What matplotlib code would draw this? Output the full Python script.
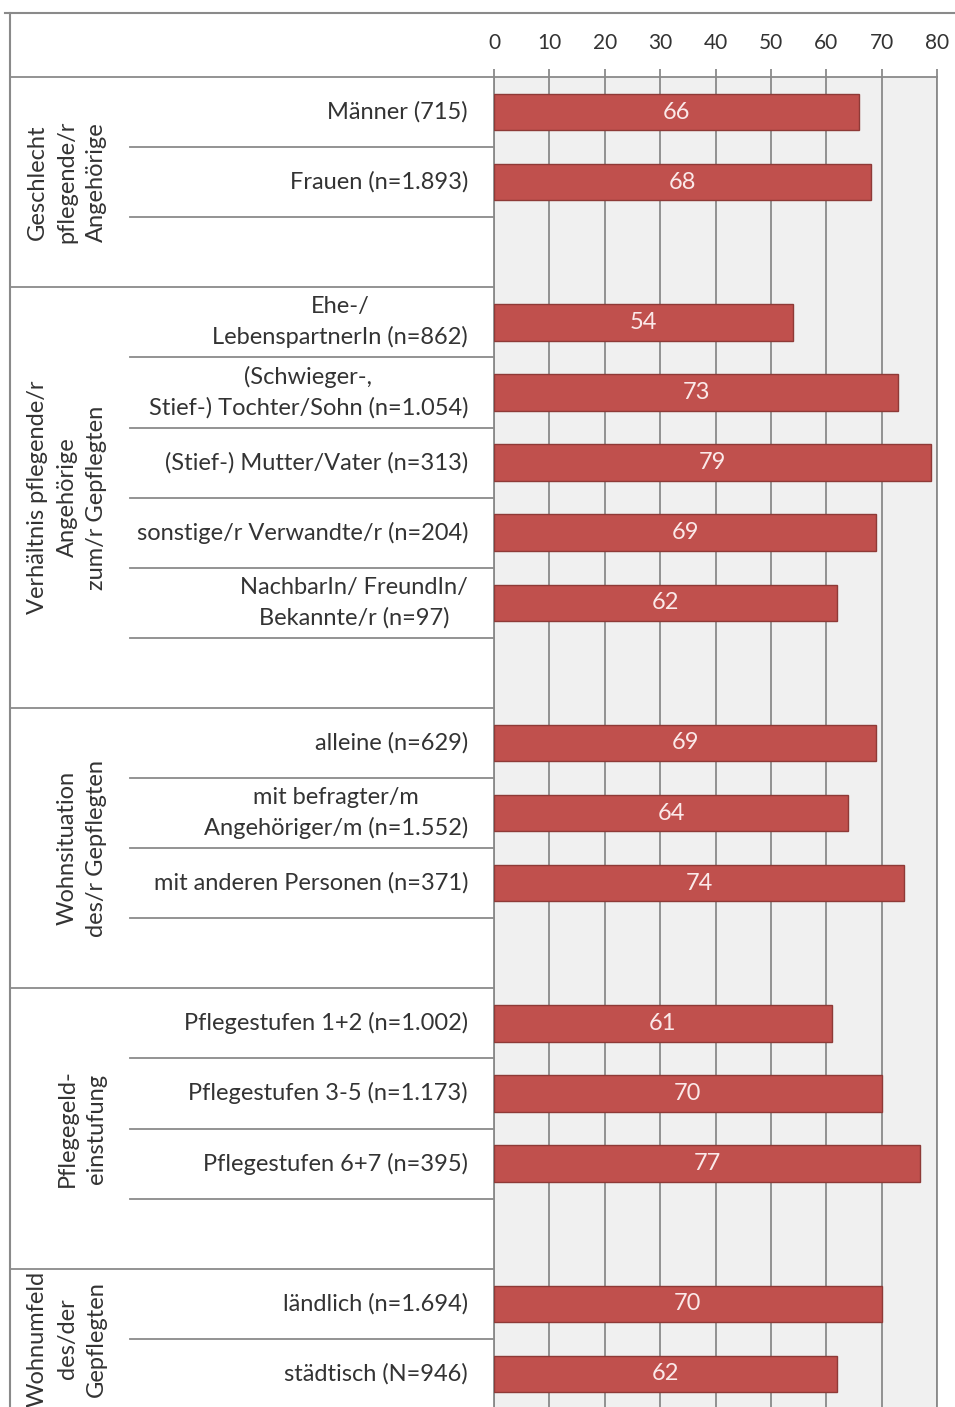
import matplotlib.pyplot as plt
import matplotlib.transforms as mtransforms
from matplotlib.lines import Line2D

plt.rcParams['font.family'] = ['Lato', 'DejaVu Sans']

# Data
group_names = [
    "Geschlecht\npflegende/r\nAngehörige",
    "Verhältnis pflegende/r\nAngehörige\nzum/r Gepflegten",
    "Wohnsituation\ndes/r Gepflegten",
    "Pflegegeld-\neinstufung",
    "Wohnumfeld\ndes/der\nGepflegten",
]
group_items = [
    ["Männer (715)", "Frauen (n=1.893)"],
    ["Ehe-/\nLebenspartnerIn (n=862)", "(Schwieger-,\nStief-) Tochter/Sohn (n=1.054)",
     "(Stief-) Mutter/Vater (n=313)", "sonstige/r Verwandte/r (n=204)",
     "NachbarIn/ FreundIn/\nBekannte/r (n=97)"],
    ["alleine (n=629)", "mit befragter/m\nAngehöriger/m (n=1.552)", "mit anderen Personen (n=371)"],
    ["Pflegestufen 1+2 (n=1.002)", "Pflegestufen 3-5 (n=1.173)", "Pflegestufen 6+7 (n=395)"],
    ["ländlich (n=1.694)", "städtisch (N=946)"],
]
group_values = [
    [66, 68],
    [54, 73, 79, 69, 62],
    [69, 64, 74],
    [61, 70, 77],
    [70, 62],
]
x_ticks = [0, 10, 20, 30, 40, 50, 60, 70, 80]

# row layout: items of each group, one empty row between groups
labels, values, rows = [], [], []
group_span = []
r = 0
for gi, items in enumerate(group_items):
    start = r
    for lab, val in zip(items, group_values[gi]):
        labels.append(lab)
        values.append(val)
        rows.append(r)
        r += 1
    if gi < len(group_items) - 1:
        r += 1
    group_span.append((start, r))
n_rows = r

W, H = 955, 1407
fig = plt.figure(figsize=(W / 100, H / 100), dpi=100)

def fx(px):
    return px / W

def fy(py):
    return 1 - py / H

top_px, row_h = 77, 70.1
x0_px, x1_px = 494, 937
ax = fig.add_axes([fx(x0_px), fy(top_px + n_rows * row_h),
                   fx(x1_px) - fx(x0_px), n_rows * row_h / H])
ax.set_xlim(0, 80)
ax.set_ylim(n_rows, 0)
ax.set_facecolor('#f0f0f0')

grid_col = '#8a8a8a'
text_col = '#333333'
ax.barh([p + 0.5 for p in rows], values, height=0.52, color='#c0504d',
        edgecolor='#8e3a37', linewidth=1, zorder=3)
for p, v in zip(rows, values):
    ax.text(v / 2, p + 0.5, str(v), ha='center', va='center', color='#fbe9e9',
            fontsize=17, zorder=4)

ax.xaxis.tick_top()
ax.set_xticks(x_ticks)
ax.tick_params(axis='x', length=6, width=1.3, color=grid_col, labelsize=15,
               labelcolor=text_col, pad=11)
ax.set_yticks([])
ax.grid(axis='x', color=grid_col, linewidth=1.3)
ax.set_axisbelow(True)
for s in ['left', 'right', 'top']:
    ax.spines[s].set_color(grid_col)
    ax.spines[s].set_linewidth(1.3)
ax.spines['bottom'].set_visible(False)

# label column
bt = mtransforms.blended_transform_factory(fig.transFigure, ax.transData)
line_kw = dict(color=grid_col, linewidth=1.3, transform=bt, clip_on=False)
fig.add_artist(Line2D([fx(10), fx(x0_px)], [0, 0], **line_kw))
for p, lab in zip(rows, labels):
    ax.text(fx(468), p + 0.5, lab, transform=bt, ha='right', va='center',
            multialignment='center', fontsize=17, color=text_col, linespacing=1.5)
    fig.add_artist(Line2D([fx(130), fx(x0_px)], [p + 1, p + 1], **line_kw))
for name, (a, b) in zip(group_names, group_span):
    ax.text(fx(107), (a + b) / 2, name, transform=bt, rotation=90, ha='right',
            va='center', multialignment='center', fontsize=17, color=text_col,
            linespacing=1.5)
    if b < n_rows:
        fig.add_artist(Line2D([fx(10), fx(x0_px)], [b, b], **line_kw))

# outer frame
fig.add_artist(Line2D([fx(5), fx(W)], [fy(13), fy(13)], color=grid_col, linewidth=1.5))
fig.add_artist(Line2D([fx(10), fx(10)], [fy(13), 0], color=grid_col, linewidth=1.5))

fig.savefig('out.png', dpi=100, facecolor='white')
